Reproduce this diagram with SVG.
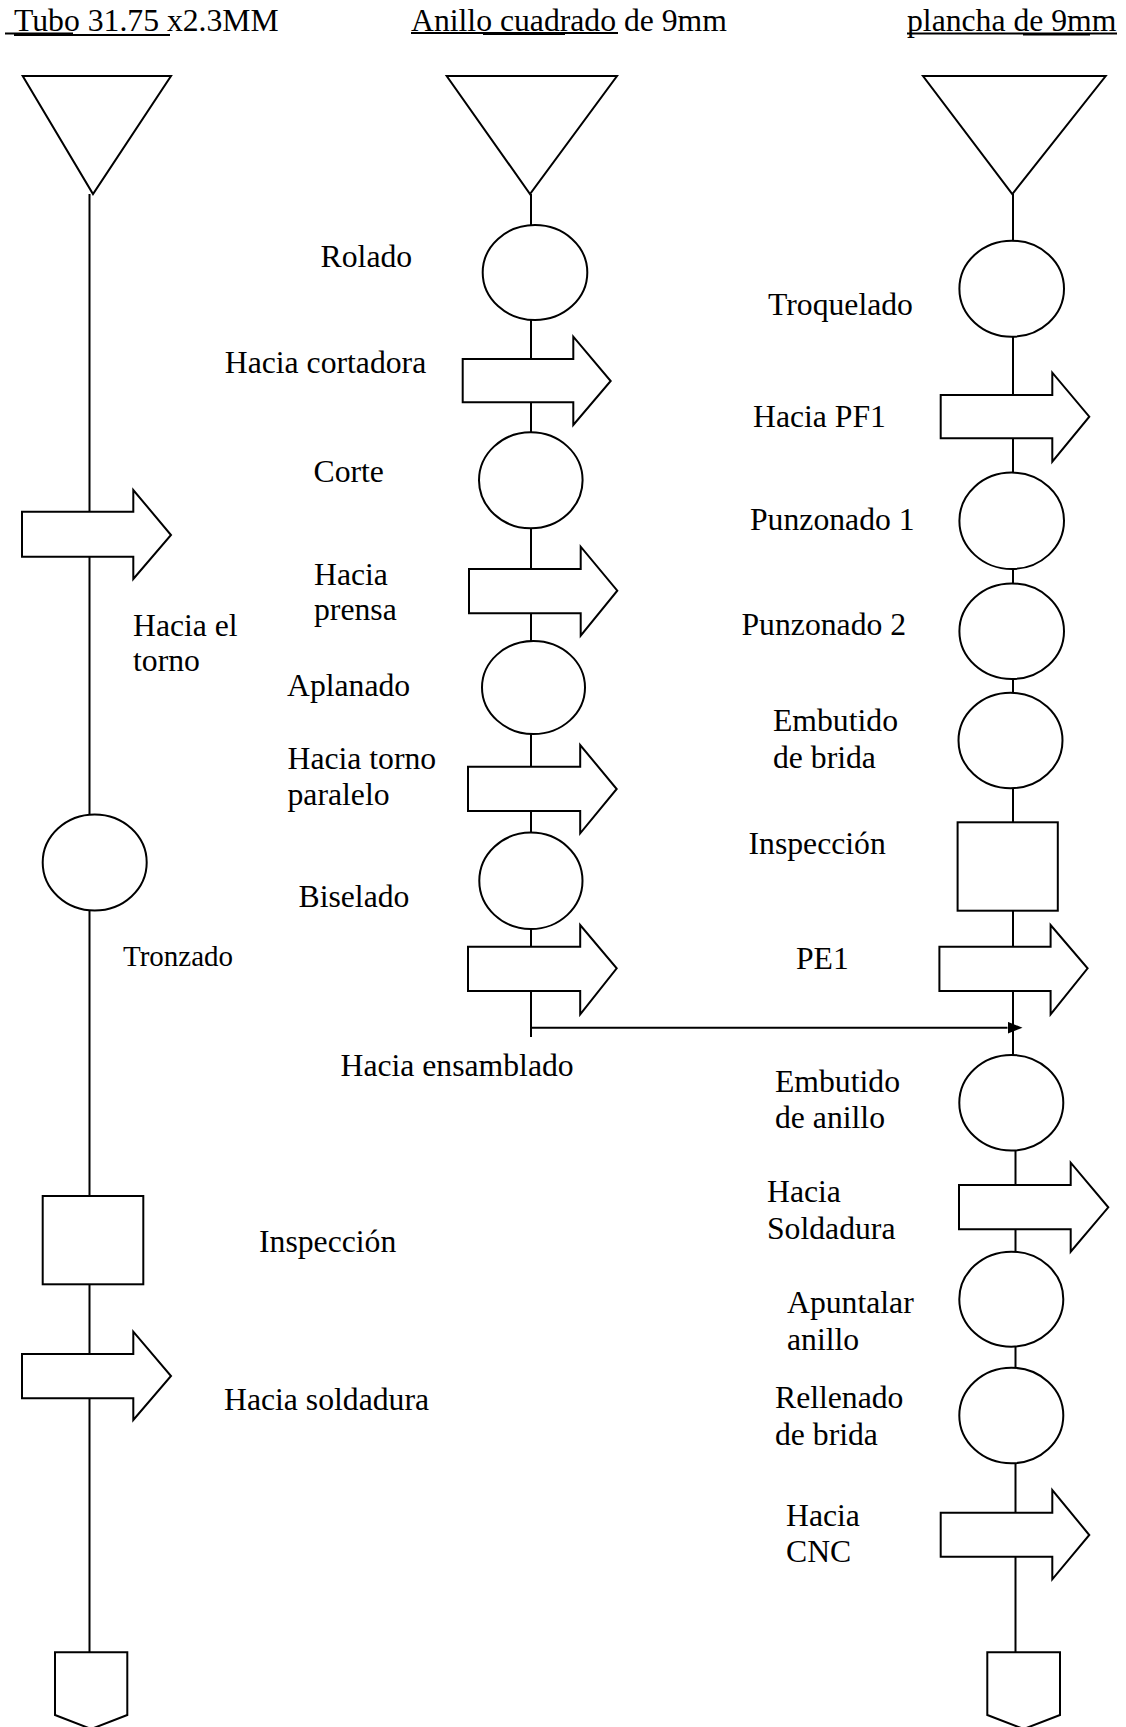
<svg xmlns="http://www.w3.org/2000/svg" width="1126" height="1727" viewBox="0 0 1126 1727">
  <style>
    .ln { stroke: #000; stroke-width: 2; fill: none; }
    .sh { stroke: #000; stroke-width: 2; fill: #fff; }
    .t { font-family: "Liberation Serif", "Times New Roman", serif; font-size: 31.7px; fill: #000; }
    .ul { stroke: #000; stroke-width: 1.8; }
  </style>
  <defs>
    <marker id="head" markerUnits="userSpaceOnUse" markerWidth="15" markerHeight="12" refX="0" refY="6" orient="auto">
      <path d="M0,0 L15,6 L0,12 z" fill="#000"/>
    </marker>
  </defs>
  <rect width="1126" height="1727" fill="#fff"/>

  <!-- column headings -->
  <g id="headings">
    <text class="t" x="14" y="31">Tubo 31.75 x2.3MM</text>
    <line class="ul" x1="5" y1="33.5" x2="73" y2="33.5"/>
    <line class="ul" x1="14" y1="35" x2="170" y2="35"/>
    <text class="t" x="411" y="31">Anillo cuadrado de 9mm</text>
    <line class="ul" x1="411" y1="33" x2="618" y2="33"/>
    <line class="ul" x1="483" y1="34" x2="565" y2="34"/>
    <text class="t" x="907" y="31">plancha de 9mm</text>
    <line class="ul" x1="907" y1="33.5" x2="1117" y2="33.5"/>
    <line class="ul" x1="1023" y1="34.5" x2="1090" y2="34.5"/>
  </g>

  <!-- flow lines -->
  <g id="connectors">
    <line class="ln" x1="89.5" y1="194" x2="89.5" y2="1652"/>
    <line class="ln" x1="531" y1="194" x2="531" y2="1037"/>
    <line class="ln" x1="1013" y1="194" x2="1013" y2="1100"/>
    <line class="ln" x1="1015.5" y1="1100" x2="1015.5" y2="1652"/>
    <line class="ln" x1="531" y1="1027.7" x2="1007.5" y2="1027.7" marker-end="url(#head)"/>
  </g>

  <!-- left column: tube -->
  <g id="tubo-almacen"><polygon class="sh" points="22.7,76 171,76 93,194"/></g>
  <g id="tubo-hacia-torno">
    <polygon class="sh" points="22,511.7 133.3,511.7 133.3,490 171,535 133.3,579 133.3,556.7 22,556.7"/>
    <text class="t" x="133" y="636">Hacia el</text>
    <text class="t" x="133" y="671">torno</text>
  </g>
  <g id="tubo-tronzado">
    <ellipse class="sh" cx="94.7" cy="862.5" rx="52" ry="48"/>
    <text class="t" x="123" y="966" style="font-size:29px">Tronzado</text>
  </g>
  <g id="tubo-inspeccion">
    <rect class="sh" x="42.7" y="1196" width="100.6" height="88.3"/>
    <text class="t" x="259" y="1252">Inspección</text>
  </g>
  <g id="tubo-hacia-soldadura">
    <polygon class="sh" points="22,1354 133.3,1354 133.3,1331.7 171,1376 133.3,1420 133.3,1398.3 22,1398.3"/>
    <text class="t" x="224" y="1410">Hacia soldadura</text>
  </g>
  <g id="tubo-fin"><polygon class="sh" points="55,1652.3 127.3,1652.3 127.3,1715 91.2,1729 55,1715"/></g>

  <!-- middle column: square ring -->
  <g id="anillo-almacen"><polygon class="sh" points="446.7,76 617,76 530,194"/></g>
  <g id="anillo-rolado">
    <ellipse class="sh" cx="535" cy="272.5" rx="52.3" ry="47.5"/>
    <text class="t" x="320.6" y="266.6">Rolado</text>
  </g>
  <g id="anillo-hacia-cortadora">
    <polygon class="sh" points="462.7,359 573.3,359 573.3,336.7 610.7,381 573.3,425 573.3,402.3 462.7,402.3"/>
    <text class="t" x="224.8" y="373">Hacia cortadora</text>
  </g>
  <g id="anillo-corte">
    <ellipse class="sh" cx="530.8" cy="480.3" rx="51.8" ry="48"/>
    <text class="t" x="313.5" y="482">Corte</text>
  </g>
  <g id="anillo-hacia-prensa">
    <polygon class="sh" points="469,569 580.7,569 580.7,546.7 617.3,590.7 580.7,635.7 580.7,613.3 469,613.3"/>
    <text class="t" x="314" y="585">Hacia</text>
    <text class="t" x="314" y="620">prensa</text>
  </g>
  <g id="anillo-aplanado">
    <ellipse class="sh" cx="533.5" cy="687.5" rx="51.5" ry="46.5"/>
    <text class="t" x="287" y="696">Aplanado</text>
  </g>
  <g id="anillo-hacia-torno">
    <polygon class="sh" points="468,766.7 580.2,766.7 580.2,745 616.7,789 580.2,833.3 580.2,811 468,811"/>
    <text class="t" x="287.5" y="769">Hacia torno</text>
    <text class="t" x="287.5" y="805">paralelo</text>
  </g>
  <g id="anillo-biselado">
    <ellipse class="sh" cx="530.9" cy="880.8" rx="51.6" ry="48.2"/>
    <text class="t" x="298.5" y="907">Biselado</text>
  </g>
  <g id="anillo-hacia-ensamblado">
    <polygon class="sh" points="468,946.7 580.2,946.7 580.2,925 616.7,968.3 580.2,1014.3 580.2,991 468,991"/>
    <text class="t" x="340.5" y="1076">Hacia ensamblado</text>
  </g>

  <!-- right column: plate -->
  <g id="plancha-almacen"><polygon class="sh" points="923,76 1105.7,76 1012.3,194"/></g>
  <g id="plancha-troquelado">
    <ellipse class="sh" cx="1011.7" cy="288.7" rx="52.3" ry="48"/>
    <text class="t" x="768" y="315">Troquelado</text>
  </g>
  <g id="plancha-hacia-pf1">
    <polygon class="sh" points="940.7,395 1052.3,395 1052.3,372.7 1089.3,416.7 1052.3,461.7 1052.3,438.3 940.7,438.3"/>
    <text class="t" x="753" y="427">Hacia PF1</text>
  </g>
  <g id="plancha-punzonado-1">
    <ellipse class="sh" cx="1011.7" cy="520.8" rx="52.3" ry="48.2"/>
    <text class="t" x="750" y="530">Punzonado 1</text>
  </g>
  <g id="plancha-punzonado-2">
    <ellipse class="sh" cx="1011.7" cy="631.2" rx="52.3" ry="47.8"/>
    <text class="t" x="741.5" y="635">Punzonado 2</text>
  </g>
  <g id="plancha-embutido-brida">
    <ellipse class="sh" cx="1010.5" cy="740.5" rx="52" ry="47.8"/>
    <text class="t" x="773" y="731">Embutido</text>
    <text class="t" x="773" y="768">de brida</text>
  </g>
  <g id="plancha-inspeccion">
    <rect class="sh" x="957.6" y="822.3" width="100.2" height="88.4"/>
    <text class="t" x="748.5" y="853.5">Inspección</text>
  </g>
  <g id="plancha-pe1">
    <polygon class="sh" points="939.4,946.7 1050.6,946.7 1050.6,925 1087.6,968.3 1050.6,1014.3 1050.6,991 939.4,991"/>
    <text class="t" x="796" y="969">PE1</text>
  </g>
  <g id="plancha-embutido-anillo">
    <ellipse class="sh" cx="1011.3" cy="1102.8" rx="52" ry="47.8"/>
    <text class="t" x="775" y="1092">Embutido</text>
    <text class="t" x="775" y="1128">de anillo</text>
  </g>
  <g id="plancha-hacia-soldadura">
    <polygon class="sh" points="959,1185 1070.7,1185 1070.7,1162.7 1108.3,1207.3 1070.7,1251.7 1070.7,1229.3 959,1229.3"/>
    <text class="t" x="767" y="1202">Hacia</text>
    <text class="t" x="767" y="1239">Soldadura</text>
  </g>
  <g id="plancha-apuntalar">
    <ellipse class="sh" cx="1011.3" cy="1299.2" rx="52" ry="47.5"/>
    <text class="t" x="787" y="1313">Apuntalar</text>
    <text class="t" x="787" y="1350">anillo</text>
  </g>
  <g id="plancha-rellenado">
    <ellipse class="sh" cx="1011.3" cy="1415.5" rx="52" ry="47.8"/>
    <text class="t" x="775" y="1408">Rellenado</text>
    <text class="t" x="775" y="1445">de brida</text>
  </g>
  <g id="plancha-hacia-cnc">
    <polygon class="sh" points="940.7,1512.7 1052.3,1512.7 1052.3,1490 1089.3,1535 1052.3,1579.3 1052.3,1556.7 940.7,1556.7"/>
    <text class="t" x="786" y="1526">Hacia</text>
    <text class="t" x="786" y="1562">CNC</text>
  </g>
  <g id="plancha-fin"><polygon class="sh" points="987.3,1652.3 1060,1652.3 1060,1715 1023.7,1729 987.3,1715"/></g>
</svg>
